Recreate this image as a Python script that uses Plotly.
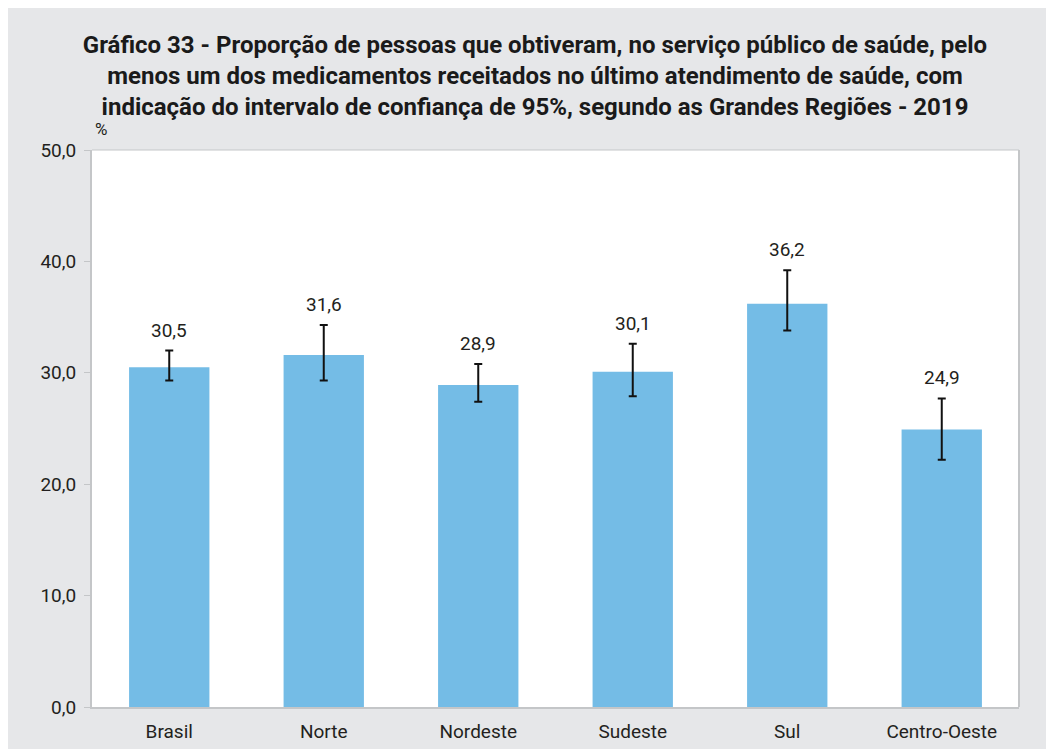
import plotly.graph_objects as go

# dados
regioes = ['Brasil', 'Norte', 'Nordeste', 'Sudeste', 'Sul', 'Centro-Oeste']
valores = [30.5, 31.6, 28.9, 30.1, 36.2, 24.9]
limite_sup = [32.0, 34.3, 30.8, 32.6, 39.2, 27.7]
limite_inf = [29.3, 29.3, 27.4, 27.9, 33.8, 22.2]

erro_mais = [s - v for s, v in zip(limite_sup, valores)]
erro_menos = [v - i for v, i in zip(valores, limite_inf)]

fig = go.Figure()
fig.add_trace(go.Bar(
    x=regioes, y=valores, width=0.52,
    marker=dict(color='#74bce6', line=dict(width=0)),
    error_y=dict(type='data', array=erro_mais, arrayminus=erro_menos,
                 color='#111111', thickness=2, width=4),
))

# rotulos acima das barras de erro
for r, v, s in zip(regioes, valores, limite_sup):
    fig.add_annotation(x=r, y=s, text=f'{v:.1f}'.replace('.', ','), showarrow=False,
                       yanchor='bottom', yshift=7, font=dict(size=19, color='#231f20'))

fig.add_annotation(x=0, xref='paper', xanchor='center', xshift=9, y=1, yref='paper',
                   yanchor='bottom', yshift=9, text='%', showarrow=False,
                   font=dict(size=17, color='#231f20'))

fig.update_layout(
    width=1054, height=749,
    paper_bgcolor='#e6e7e9', plot_bgcolor='white',
    separators=',.',
    font=dict(family='Roboto, Noto Sans, sans-serif', size=19, color='#231f20'),
    title=dict(text='<b>Gráfico 33 - Proporção de pessoas que obtiveram, no serviço público de saúde, pelo<br>'
                    'menos um dos medicamentos receitados no último atendimento de saúde, com<br>'
                    'indicação do intervalo de confiança de 95%, segundo as Grandes Regiões - 2019</b>',
               x=0.5, xanchor='center', y=0.94, yanchor='top',
               font=dict(size=24, color='#1a1a1a')),
    margin=dict(l=84, r=43, t=142, b=50),
    showlegend=False,
)
fig.update_yaxes(range=[0, 50], dtick=10, tickformat='.1f', showgrid=False,
                 showline=True, linecolor='#c4c6c8', linewidth=2,
                 ticks='outside', ticklen=6, tickcolor='#c4c6c8', zeroline=False,
                 ticklabelstandoff=4, tickfont=dict(size=19))
fig.update_xaxes(showline=True, linecolor='#c4c6c8', linewidth=2, mirror=False,
                 ticklabelstandoff=6, tickfont=dict(size=19))
fig.add_shape(type='line', xref='paper', yref='paper', x0=1, x1=1, y0=0, y1=1,
              line=dict(color='#c4c6c8', width=2))
fig.add_shape(type='line', xref='paper', yref='paper', x0=0, x1=1, y0=1, y1=1,
              line=dict(color='#c4c6c8', width=1))

fig.write_html('out.html')
